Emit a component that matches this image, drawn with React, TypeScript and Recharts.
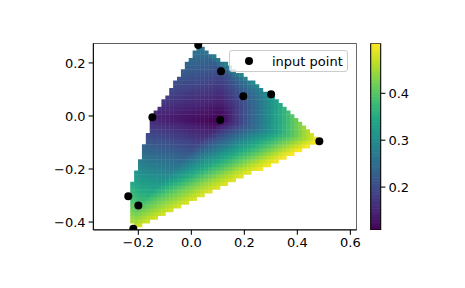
import React from "react";
import { ScatterChart, Scatter, XAxis, YAxis, Legend } from "recharts";

// input points
const POINT_X = [0.026, 0.112, 0.196, 0.301, -0.147, 0.109, 0.483, -0.238, -0.2, -0.219];
const POINT_Y = [0.268, 0.169, 0.074, 0.082, -0.005, -0.015, -0.095, -0.303, -0.338, -0.425];
const POINT_Z = [0.269, 0.203, 0.21, 0.312, 0.147, 0.107, 0.51, 0.388, 0.393, 0.478];

const X_TICKS = [-0.2, 0.0, 0.2, 0.4, 0.6];
const Y_TICKS = [-0.4, -0.2, 0.0, 0.2];
const CBAR_TICKS = [0.2, 0.3, 0.4];

const GRID_N = 50;

const VIRIDIS = [
  "#440154", "#482475", "#414487", "#355f8d", "#2a788e", "#21918c",
  "#22a884", "#44bf70", "#7ad151", "#bddf26", "#fde725",
];

const XMIN = -0.37, XMAX = 0.624;
const YMIN = -0.43, YMAX = 0.274;
const PLOT = { left: 93.3, top: 43.3, width: 263.4, height: 186.7 };
const CBAR_W = 10;

function hex(c: string) {
  return [1, 3, 5].map((i) => parseInt(c.slice(i, i + 2), 16));
}

function viridis(t: number) {
  const u = Math.min(1, Math.max(0, t)) * (VIRIDIS.length - 1);
  const i = Math.min(VIRIDIS.length - 2, Math.floor(u));
  const f = u - i;
  const a = hex(VIRIDIS[i]), b = hex(VIRIDIS[i + 1]);
  const c = a.map((v, k) => Math.round(v + (b[k] - v) * f));
  return `rgb(${c[0]},${c[1]},${c[2]})`;
}

// Delaunay triangles of the input points (brute force, empty circumcircle)
function triangulate(xs: number[], ys: number[]) {
  const n = xs.length;
  const tris: number[][] = [];
  for (let i = 0; i < n; i++)
    for (let j = i + 1; j < n; j++)
      for (let k = j + 1; k < n; k++) {
        const ax = xs[i], ay = ys[i], bx = xs[j], by = ys[j], cx = xs[k], cy = ys[k];
        const d = 2 * (ax * (by - cy) + bx * (cy - ay) + cx * (ay - by));
        if (Math.abs(d) < 1e-12) continue;
        const a2 = ax * ax + ay * ay, b2 = bx * bx + by * by, c2 = cx * cx + cy * cy;
        const ux = (a2 * (by - cy) + b2 * (cy - ay) + c2 * (ay - by)) / d;
        const uy = (a2 * (cx - bx) + b2 * (ax - cx) + c2 * (bx - ax)) / d;
        const r2 = (ax - ux) ** 2 + (ay - uy) ** 2;
        let ok = true;
        for (let m = 0; m < n && ok; m++) {
          if (m === i || m === j || m === k) continue;
          if ((xs[m] - ux) ** 2 + (ys[m] - uy) ** 2 < r2 - 1e-12) ok = false;
        }
        if (ok) tris.push([i, j, k]);
      }
  return tris;
}

const TRIS = triangulate(POINT_X, POINT_Y);

// linear interpolation inside the triangulation, like LinearNDInterpolator
function interp(x: number, y: number): number | null {
  for (const [i, j, k] of TRIS) {
    const x1 = POINT_X[i], y1 = POINT_Y[i], x2 = POINT_X[j], y2 = POINT_Y[j], x3 = POINT_X[k], y3 = POINT_Y[k];
    const det = (y2 - y3) * (x1 - x3) + (x3 - x2) * (y1 - y3);
    const l1 = ((y2 - y3) * (x - x3) + (x3 - x2) * (y - y3)) / det;
    const l2 = ((y3 - y1) * (x - x3) + (x1 - x3) * (y - y3)) / det;
    const l3 = 1 - l1 - l2;
    if (l1 >= -1e-9 && l2 >= -1e-9 && l3 >= -1e-9)
      return l1 * POINT_Z[i] + l2 * POINT_Z[j] + l3 * POINT_Z[k];
  }
  return null;
}

const gx0 = Math.min(...POINT_X), gx1 = Math.max(...POINT_X);
const gy0 = Math.min(...POINT_Y), gy1 = Math.max(...POINT_Y);
const DX = (gx1 - gx0) / (GRID_N - 1);
const DY = (gy1 - gy0) / (GRID_N - 1);

const cells: { x: number; y: number; z: number }[] = [];
for (let r = 0; r < GRID_N; r++)
  for (let c = 0; c < GRID_N; c++) {
    const x = gx0 + c * DX, y = gy0 + r * DY;
    const z = interp(x, y);
    if (z !== null) cells.push({ x, y, z });
  }

const VMIN = Math.min(...cells.map((d) => d.z));
const VMAX = Math.max(...cells.map((d) => d.z));

const points = POINT_X.map((x, i) => ({ x, y: POINT_Y[i] }));
const plotCenter = [{ x: (XMIN + XMAX) / 2, y: (YMIN + YMAX) / 2 }];

const CW = (DX * PLOT.width) / (XMAX - XMIN);
const CH = (DY * PLOT.height) / (YMAX - YMIN);

// colorbar strips
const CBAR_STRIPS = 120;
const STRIP_H = (VMAX - VMIN) / CBAR_STRIPS;
const strips = Array.from({ length: CBAR_STRIPS }, (_, i) => ({ x: 0.5, y: VMIN + (i + 0.5) * STRIP_H, t: (i + 0.5) / CBAR_STRIPS }));
const STRIP_PX = PLOT.height / CBAR_STRIPS;
const cbarCenter = [{ x: 0.5, y: (VMIN + VMAX) / 2 }];

const fmt = (v: number) => v.toFixed(1).replace("-", "\u2212");

function MeshCell(p: any) {
  const z = p.payload?.z ?? p.z;
  return (
    <rect x={p.cx - CW / 2} y={p.cy - CH / 2} width={CW + 0.4} height={CH + 0.4}
      fill={viridis((z - VMIN) / (VMAX - VMIN))} />
  );
}

function Strip(p: any) {
  const t = p.payload?.t ?? p.t;
  return <rect x={p.cx - CBAR_W / 2} y={p.cy - STRIP_PX / 2} width={CBAR_W} height={STRIP_PX + 0.6} fill={viridis(t)} />;
}

function CbarFrame(p: any) {
  return <rect x={p.cx - CBAR_W / 2} y={p.cy - PLOT.height / 2} width={CBAR_W} height={PLOT.height}
    fill="none" stroke="#000" strokeWidth={1.07} />;
}

function AxesFrame(p: any) {
  return <rect x={p.cx - PLOT.width / 2} y={p.cy - PLOT.height / 2} width={PLOT.width} height={PLOT.height}
    fill="none" stroke="#000" strokeWidth={1.07} />;
}

function Dot(p: any) {
  return <circle cx={p.cx} cy={p.cy} r={4} fill="#000" />;
}

function LegendBox() {
  return (
    <div style={{
      display: "flex", alignItems: "center", height: 20, width: 117,
      border: "1px solid #cccccc", borderRadius: 3, background: "rgba(255,255,255,0.8)",
      fontSize: 13, color: "#000", boxSizing: "content-box",
    }}>
      <svg width={42} height={20}><circle cx={19} cy={10} r={4} fill="#000" /></svg>
      <span>input point</span>
    </div>
  );
}

export default function App() {
  const tick = { fill: "#000", fontSize: 13 };
  return (
    <div style={{ position: "absolute", left: 0, top: 0, width: 465, height: 288, fontFamily: "DejaVu Sans", background: "#fff" }}>
      <div style={{ position: "absolute", left: 0, top: 0 }}>
        <ScatterChart width={465} height={288} margin={{ top: 43.3, right: 108.3, bottom: 28, left: 33.3 }}>
          <XAxis type="number" dataKey="x" domain={[XMIN, XMAX]} ticks={X_TICKS} allowDataOverflow
            height={30} tickSize={4.7} tickMargin={3} tickFormatter={fmt} tick={tick}
            stroke="#000" strokeWidth={1.07} interval={0} />
          <YAxis type="number" dataKey="y" domain={[YMIN, YMAX]} ticks={Y_TICKS} allowDataOverflow
            width={60} tickSize={4.7} tickMargin={3} tickFormatter={fmt} tick={tick}
            stroke="#000" strokeWidth={1.07} interval={0} />
          <Scatter data={cells} shape={MeshCell} isAnimationActive={false} />
          <Scatter name="input point" data={points} shape={Dot} isAnimationActive={false} />
          <Scatter data={plotCenter} shape={AxesFrame} isAnimationActive={false} legendType="none" />
          <Legend verticalAlign="middle" align="center" layout="horizontal" content={() => <LegendBox />}
            wrapperStyle={{ position: "absolute", left: 229, top: 50, width: "auto", height: "auto" }} />
        </ScatterChart>
      </div>
      <div style={{ position: "absolute", left: 340, top: 0 }}>
        <ScatterChart width={125} height={288} margin={{ top: 43.3, right: 44.3, bottom: 58, left: 30.7 }}>
          <XAxis type="number" dataKey="x" domain={[0, 1]} hide />
          <YAxis type="number" dataKey="y" orientation="right" domain={[VMIN, VMAX]} ticks={CBAR_TICKS}
            allowDataOverflow width={40} tickSize={4.7} tickMargin={3} tickFormatter={(v: number) => v.toFixed(1)}
            tick={tick} stroke="#000" strokeWidth={1.07} axisLine={false} interval={0} />
          <Scatter data={strips} shape={Strip} isAnimationActive={false} />
          <Scatter data={cbarCenter} shape={CbarFrame} isAnimationActive={false} />
        </ScatterChart>
      </div>
    </div>
  );
}
